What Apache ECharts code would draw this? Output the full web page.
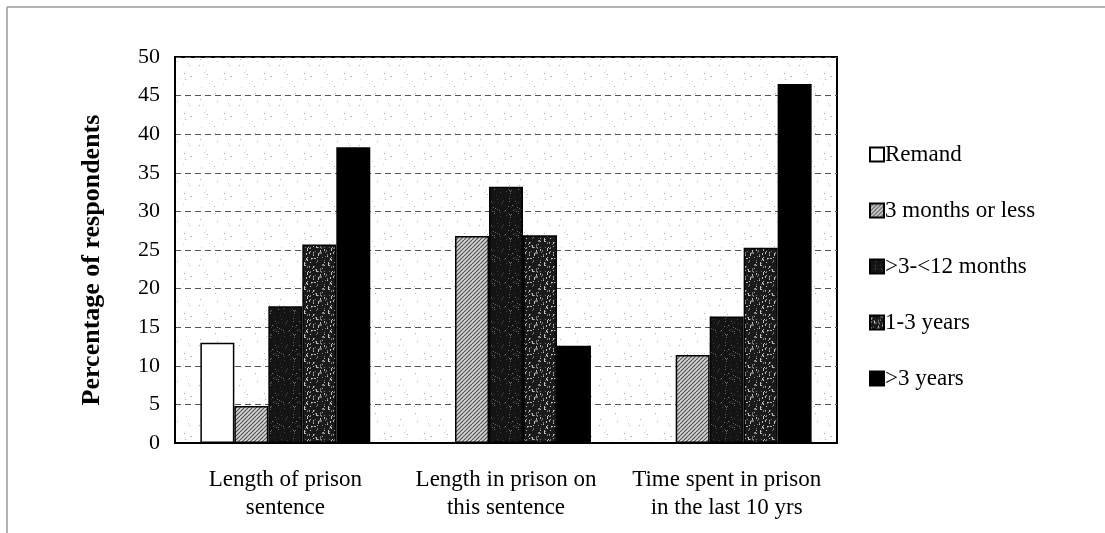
<!DOCTYPE html>
<html>
<head>
<meta charset="utf-8">
<script src="https://cdn.jsdelivr.net/npm/echarts@6/dist/echarts.min.js"></script>
<style>
html,body{margin:0;padding:0;background:#fff;}
#chart{width:1105px;height:533px;}
</style>
</head>
<body>
<div id="chart"></div>
<script>
var categories = ['Length of prison\nsentence', 'Length in prison on\nthis sentence', 'Time spent in prison\nin the last 10 yrs'];
var seriesNames = ['Remand', '3 months or less', '>3-<12 months', '1-3 years', '>3 years'];
var remand = [13, 0, 0];
var threeMonthsOrLess = [4.8, 26.8, 11.4];
var threeToTwelveMonths = [17.7, 33.2, 16.4];
var oneToThreeYears = [25.7, 26.9, 25.3];
var overThreeYears = [38.3, 12.6, 46.5];
var yTicks = [0, 5, 10, 15, 20, 25, 30, 35, 40, 45, 50];

// deterministic texture helper (styling only)
function hash(i){ var x = Math.sin(i*12.9898)*43758.5453; return x - Math.floor(x); }
function tile(w, h, base, paint){
  var c = document.createElement('canvas'); c.width = w; c.height = h;
  var g = c.getContext('2d'); g.fillStyle = base; g.fillRect(0,0,w,h); paint(g, w, h); return c;
}
var hatch = tile(8, 8, '#d4d4d4', function(g){
  g.strokeStyle = '#555'; g.lineWidth = 1.2;
  for (var k = -8; k <= 16; k += 4){ g.beginPath(); g.moveTo(k, 8); g.lineTo(k+8, 0); g.stroke(); }
});
var darkSpeck = tile(24, 24, '#141414', function(g, w, h){
  for (var i = 0; i < 40; i++){ g.fillStyle = hash(i+3) > 0.5 ? '#6a6a6a' : '#3a3a3a'; g.fillRect(Math.floor(hash(i*7+1)*w), Math.floor(hash(i*13+5)*h), 1, 1); }
});
var lightSpeck = tile(24, 24, '#1a1a1a', function(g, w, h){
  for (var i = 0; i < 70; i++){ g.fillStyle = hash(i+11) > 0.4 ? '#bdbdbd' : '#777'; g.fillRect(Math.floor(hash(i*5+2)*w), Math.floor(hash(i*17+9)*h), 1, 1 + (hash(i*3)>0.7?1:0)); }
});
var bgSpeck = tile(40, 40, '#ffffff', function(g, w, h){
  for (var i = 0; i < 22; i++){ g.fillStyle = hash(i+21) > 0.5 ? '#b0b0b0' : '#d0d0d0'; g.fillRect(Math.floor(hash(i*9+4)*w), Math.floor(hash(i*11+7)*h), 1, 1); }
});
var fills = ['#ffffff', {image: hatch, repeat: 'repeat'}, {image: darkSpeck, repeat: 'repeat'}, {image: lightSpeck, repeat: 'repeat'}, '#000000'];
var values = [remand, threeMonthsOrLess, threeToTwelveMonths, oneToThreeYears, overThreeYears];

var chart = echarts.init(document.getElementById('chart'), null, {renderer: 'canvas'});
var font = 'Liberation Serif';
chart.setOption({
  backgroundColor: '#fff',
  animation: false,
  textStyle: {fontFamily: font, color: '#000'},
  graphic: [
    {type: 'line', shape: {x1: 7, y1: 7, x2: 1105, y2: 7}, style: {stroke: '#9a9a9a', lineWidth: 1.5}},
    {type: 'line', shape: {x1: 7, y1: 7, x2: 7, y2: 533}, style: {stroke: '#9a9a9a', lineWidth: 1.5}}
  ],
  grid: {left: 175, right: 268, top: 57, bottom: 90, show: true, borderColor: '#000', borderWidth: 2,
    backgroundColor: {image: bgSpeck, repeat: 'repeat'}},
  legend: {
    orient: 'vertical', left: 864, top: 138, itemGap: 33,
    itemWidth: 14, itemHeight: 14, icon: 'rect',
    textStyle: {fontFamily: font, fontSize: 23, color: '#000', padding: [0,0,0,-4]},
    data: seriesNames
  },
  xAxis: {
    type: 'category', data: categories,
    axisLine: {lineStyle: {color: '#000', width: 2}},
    axisTick: {show: false},
    axisLabel: {interval: 0, fontFamily: font, fontSize: 23, color: '#000', lineHeight: 28, margin: 23}
  },
  yAxis: {
    type: 'value', min: 0, max: 50, interval: 5,
    name: 'Percentage of respondents', nameLocation: 'middle', nameGap: 70,
    nameTextStyle: {fontFamily: font, fontSize: 26, fontWeight: 'bold', color: '#000', padding: [0, 20, 0, 0]},
    axisLine: {show: true, lineStyle: {color: '#000', width: 2}},
    axisTick: {show: false},
    axisLabel: {fontFamily: font, fontSize: 22, color: '#000', margin: 15,
      formatter: function(v){ return yTicks.indexOf(v) >= 0 ? String(v) : ''; }},
    splitLine: {show: true, lineStyle: {color: '#555', type: [6, 4], width: 1}}
  },
  series: seriesNames.map(function(name, i){
    return {
      name: name, type: 'bar', data: values[i],
      barGap: '0%', barCategoryGap: '23%',
      itemStyle: {color: fills[i], borderColor: '#000', borderWidth: 1.5}
    };
  })
});
</script>
</body>
</html>
